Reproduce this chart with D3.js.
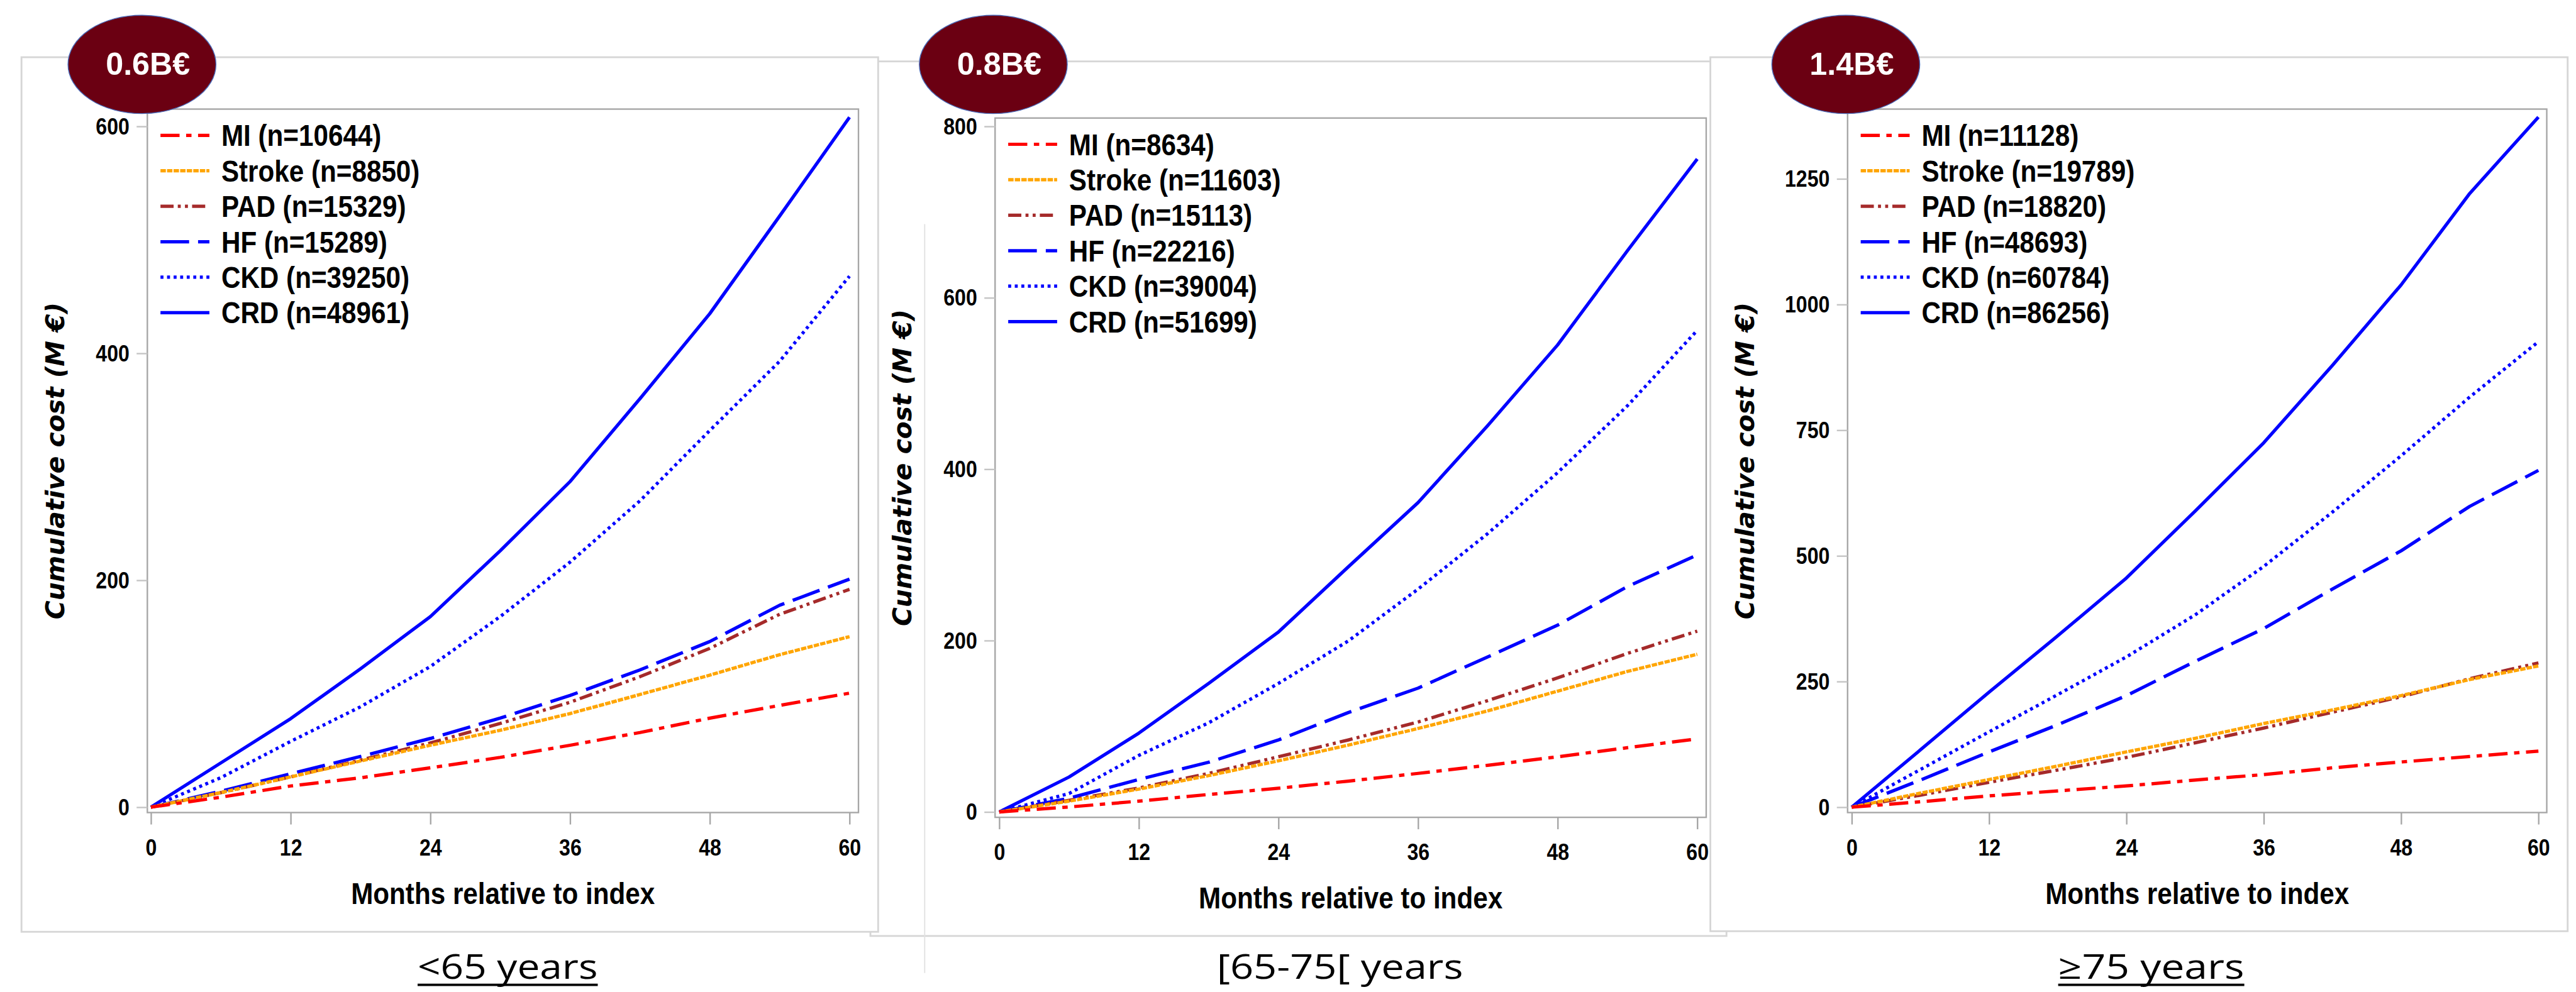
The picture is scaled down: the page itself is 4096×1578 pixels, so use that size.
<!DOCTYPE html>
<html>
<head>
<meta charset="utf-8">
<script src="https://cdn.jsdelivr.net/npm/d3@7"></script>
<style>
  body { margin: 0; background: #fff; overflow: hidden; }
</style>
</head>
<body>
<div class="graphique"></div>
<script>
// Données (coût cumulé en M€)
const months = [0, 6, 12, 18, 24, 30, 36, 42, 48, 54, 60];
const diseases = ["MI", "Stroke", "PAD", "HF", "CKD", "CRD"];
const groupLabels = ["<65 years", "[65-75[ years", "≥75 years"];
const badgeLabels = ["0.6B€", "0.8B€", "1.4B€"];

const nLt65 = [10644, 8850, 15329, 15289, 39250, 48961];
const n65to75 = [8634, 11603, 15113, 22216, 39004, 51699];
const nGe75 = [11128, 19789, 18820, 48693, 60784, 86256];

const yTicksLt65 = [0, 200, 400, 600];
const yTicks65to75 = [0, 200, 400, 600, 800];
const yTicksGe75 = [0, 250, 500, 750, 1000, 1250];
const xTicks = [0, 12, 24, 36, 48, 60];

// <65 ans
const miLt65 = [0, 8.8, 18.7, 25.9, 34.7, 43.9, 54.6, 65.8, 78.5, 89.7, 100.5];
const strokeLt65 = [0, 12.8, 26.7, 40.7, 54.6, 67.8, 82.5, 99.3, 116.4, 134.4, 150.3];
const padLt65 = [0, 12.8, 26.7, 41.5, 56.6, 73.8, 92.5, 115, 140, 170, 192];
const hfLt65 = [0, 14, 29.5, 44.7, 60.6, 78.5, 98.5, 121, 146, 178, 201];
const ckdLt65 = [0, 26, 58, 88.5, 124, 168, 216, 270, 332, 393, 468];
const crdLt65 = [0, 39, 78, 122, 168, 226, 287, 360, 435, 521, 608];

// [65-75[
const mi65to75 = [0, 5.8, 12.6, 20.4, 27.7, 36, 45, 54.5, 64.4, 75, 85.3];
const stroke65to75 = [0, 12.6, 26.7, 42.4, 59.7, 78, 97.4, 118, 141, 164, 184];
const pad65to75 = [0, 13.6, 28, 45, 64.4, 84, 105, 130, 156.5, 185, 211];
const hf65to75 = [0, 16, 38, 58, 84, 116, 144.5, 181, 218, 263, 300];
const ckd65to75 = [0, 21.5, 66, 104, 150, 199.5, 260, 325, 396, 474, 562];
const crd65to75 = [0, 40.8, 92, 150, 210, 286, 361, 451, 545, 655, 762];

// >=75 ans
const miGe75 = [0, 10.8, 22.5, 32.4, 42.3, 54, 64.8, 78.3, 90, 100.8, 111.6];
const strokeGe75 = [0, 28, 55, 82, 110, 137, 166.5, 193.5, 222, 254, 281];
const padGe75 = [0, 24, 49.5, 74, 99, 128, 157.5, 189, 219.6, 255.6, 287];
const hfGe75 = [0, 54, 110, 164, 222, 290, 355.5, 434, 510, 598.5, 670];
const ckdGe75 = [0, 75, 150, 224, 299, 382.5, 479, 587, 699, 816, 926];
const crdGe75 = [0, 114, 229, 341, 456, 589, 725, 879, 1039, 1221, 1373];

// Styles des courbes (même ordre que diseases)
const lineColors = ["#ff0000", "#ffa500", "#a52a2a", "#0000ff", "#0000ff", "#0000ff"];
const lineDashes = ["32,11,9,11", "9,2", "22,7,5,7,5,7", "48,15", "5,6", null];

// Mise en page (coordonnées de la figure d'origine 4318x1664)
const W = 4318, H = 1664;
const panels = [
  { series: [miLt65, strokeLt65, padLt65, hfLt65, ckdLt65, crdLt65], n: nLt65, ticks: yTicksLt65,
    box: [36, 96, 1472, 1563], frame: [247, 183, 1439, 1363], xr: [253, 1424], yr: [1354, 212],
    titleX: 92, badge: [238, 108], label: [851, 302], underline: true },
  { series: [mi65to75, stroke65to75, pad65to75, hf65to75, ckd65to75, crd65to75], n: n65to75, ticks: yTicks65to75,
    box: [1459, 103, 2894, 1570], frame: [1668, 198, 2860, 1371], xr: [1675, 2845], yr: [1362, 212],
    titleX: 1512, badge: [1665, 108], label: [2246, 413], underline: false },
  { series: [miGe75, strokeGe75, padGe75, hfGe75, ckdGe75, crdGe75], n: nGe75, ticks: yTicksGe75,
    box: [2867, 96, 4304, 1562], frame: [3097, 183, 4269, 1363], xr: [3104, 4255], yr: [1354, 300],
    titleX: 2925, badge: [3094, 108], label: [3606, 312], underline: true }
];

const sasFont = '"Liberation Sans", Arial, sans-serif';
const narrow = 0.89;
const lw = 5.5;

const svg = d3.select('.graphique').append('svg')
  .attr('width', 4096)
  .attr('height', 1578)
  .attr('viewBox', `0 0 ${W} ${H}`)
  .attr('preserveAspectRatio', 'none');

svg.append('rect').attr('width', W).attr('height', H).attr('fill', '#fff');

// Cadres des trois images (ordre de superposition : centre, gauche, droite)
[1, 0, 2].forEach(i => {
  const b = panels[i].box;
  svg.append('rect')
    .attr('x', b[0]).attr('y', b[1])
    .attr('width', b[2] - b[0]).attr('height', b[3] - b[1])
    .attr('fill', '#fff')
    .attr('stroke', '#d6d6d6')
    .attr('stroke-width', 3);
});

// trait parasite visible dans le panneau central
svg.append('line')
  .attr('x1', 1550).attr('x2', 1550).attr('y1', 376).attr('y2', 1632)
  .attr('stroke', '#e2e2e2').attr('stroke-width', 2);

panels.forEach((p, pi) => {
  const g = svg.append('g');
  const [fl, ft, fr, fb] = p.frame;

  const x = d3.scaleLinear().domain([0, 60]).range(p.xr);
  const y = d3.scaleLinear().domain([0, p.ticks[p.ticks.length - 1]]).range(p.yr);

  // cadre du graphique
  g.append('rect')
    .attr('x', fl).attr('y', ft)
    .attr('width', fr - fl).attr('height', fb - ft)
    .attr('fill', '#fff')
    .attr('stroke', '#a6a6a6')
    .attr('stroke-width', 2.5);

  // axe Y
  const yAxis = g.append('g')
    .attr('transform', `translate(${fl},0)`)
    .call(d3.axisLeft(y).tickValues(p.ticks).tickSize(18).tickFormat(d3.format('d')));
  yAxis.select('.domain').remove();
  yAxis.selectAll('line').attr('stroke', '#c4c4c4').attr('stroke-width', 2.5);
  yAxis.selectAll('text')
    .attr('x', 0).attr('dy', 13)
    .attr('transform', `translate(-30,0) scale(${narrow},1)`)
    .attr('font-family', sasFont).attr('font-weight', 'bold')
    .attr('font-size', 38).attr('fill', '#000');

  // axe X
  const xAxis = g.append('g')
    .attr('transform', `translate(0,${fb})`)
    .call(d3.axisBottom(x).tickValues(xTicks).tickSize(20));
  xAxis.select('.domain').remove();
  xAxis.selectAll('line').attr('stroke', '#a6a6a6').attr('stroke-width', 2.5);
  xAxis.selectAll('text')
    .attr('y', 0).attr('dy', 0)
    .attr('transform', `translate(0,72) scale(${narrow},1)`)
    .attr('font-family', sasFont).attr('font-weight', 'bold')
    .attr('font-size', 38).attr('fill', '#000');

  // titres des axes
  g.append('text')
    .attr('transform', `translate(${(fl + fr) / 2},${fb + 153}) scale(${narrow},1)`)
    .attr('text-anchor', 'middle')
    .attr('font-family', sasFont).attr('font-weight', 'bold')
    .attr('font-size', 50)
    .text('Months relative to index');

  g.append('text')
    .attr('transform', `translate(${p.titleX},${(ft + fb) / 2}) rotate(-90)`)
    .attr('text-anchor', 'middle')
    .attr('dy', '0.35em')
    .attr('font-family', '"DejaVu Sans", Verdana, sans-serif')
    .attr('font-weight', 'bold').attr('font-style', 'italic')
    .attr('font-size', 43)
    .text('Cumulative cost (M €)');

  // courbes (MI dessiné en dernier, au-dessus)
  const line = d3.line()
    .x((d, i) => x(months[i]))
    .y(d => y(d));

  for (let k = diseases.length - 1; k >= 0; k--) {
    g.append('path')
      .datum(p.series[k])
      .attr('d', line)
      .attr('fill', 'none')
      .attr('stroke', lineColors[k])
      .attr('stroke-width', lw)
      .attr('stroke-dasharray', lineDashes[k])
      .attr('stroke-linejoin', 'round');
  }

  // légende
  diseases.forEach((name, k) => {
    const ry = ft + 44 + k * 59.5;
    g.append('line')
      .attr('x1', fl + 22).attr('x2', fl + 104)
      .attr('y1', ry).attr('y2', ry)
      .attr('stroke', lineColors[k])
      .attr('stroke-width', lw)
      .attr('stroke-dasharray', lineDashes[k]);
    g.append('text')
      .attr('transform', `translate(${fl + 124},${ry + 18}) scale(${narrow},1)`)
      .attr('font-family', sasFont).attr('font-weight', 'bold')
      .attr('font-size', 50)
      .text(`${name} (n=${p.n[k]})`);
  });

  // pastille du coût total
  g.append('ellipse')
    .attr('cx', p.badge[0]).attr('cy', p.badge[1])
    .attr('rx', 124).attr('ry', 82.5)
    .attr('fill', '#6b0012')
    .attr('stroke', '#4a6ab8').attr('stroke-width', 1.5);
  g.append('text')
    .attr('x', p.badge[0] + 10).attr('y', p.badge[1] + 18)
    .attr('text-anchor', 'middle')
    .attr('font-family', sasFont).attr('font-weight', 'bold')
    .attr('font-size', 53).attr('fill', '#fff')
    .text(badgeLabels[pi]);

  // libellé de la tranche d'âge
  const [lx, lwid] = p.label;
  g.append('text')
    .attr('x', lx - lwid / 2).attr('y', 1642)
    .attr('textLength', lwid)
    .attr('lengthAdjust', 'spacingAndGlyphs')
    .attr('font-family', '"Open Sans", "Noto Sans", sans-serif')
    .attr('font-size', 57)
    .attr('fill', '#000')
    .text(groupLabels[pi]);
  if (p.underline) {
    g.append('rect')
      .attr('x', lx - lwid / 2).attr('y', 1650)
      .attr('width', lwid).attr('height', 4)
      .attr('fill', '#000');
  }
});
</script>
</body>
</html>
